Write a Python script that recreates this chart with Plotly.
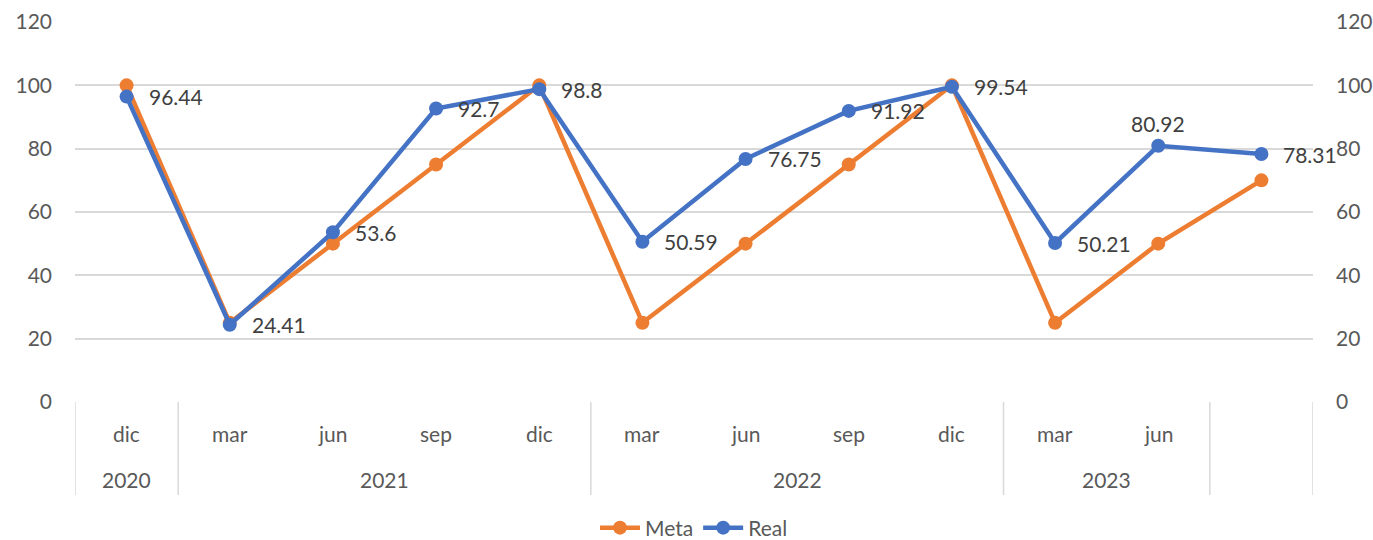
import plotly.graph_objects as go

months = ["dic", "mar", "jun", "sep", "dic", "mar", "jun", "sep", "dic", "mar", "jun", ""]
years = ["2020", "2021", "2021", "2021", "2021", "2022", "2022", "2022", "2022", "2023", "2023", ""]
meta = [100, 25, 50, 75, 100, 25, 50, 75, 100, 25, 50, 70]
real = [96.44, 24.41, 53.6, 92.7, 98.8, 50.59, 76.75, 91.92, 99.54, 50.21, 80.92, 78.31]
label_above = [False] * 10 + [True, False]

ORANGE = "#ED7D31"
BLUE = "#4472C4"
GRID = "#D9D9D9"
TXT = "#595959"
LBL = "#404040"
FONT = "Lato"
FS = 21

x = list(range(len(months)))

fig = go.Figure()
fig.add_trace(go.Scatter(
    x=x, y=meta, name="Meta", mode="lines+markers",
    line=dict(color=ORANGE, width=4.5), marker=dict(size=14, color=ORANGE),
    yaxis="y"))
fig.add_trace(go.Scatter(
    x=x, y=real, name="Real", mode="lines+markers",
    line=dict(color=BLUE, width=4.5), marker=dict(size=14, color=BLUE),
    yaxis="y2"))

annotations = []
# data labels for Real
for i, v in enumerate(real):
    if label_above[i]:
        annotations.append(dict(x=i, y=v, xref="x", yref="y2", text=f"{v:g}", showarrow=False,
                                xanchor="center", yanchor="middle", yshift=22,
                                font=dict(size=FS, color=LBL, family=FONT)))
    else:
        annotations.append(dict(x=i, y=v, xref="x", yref="y2", text=f"{v:g}", showarrow=False,
                                xanchor="left", yanchor="middle", xshift=20,
                                font=dict(size=FS, color=LBL, family=FONT)))

for i, m in enumerate(months):
    if m:
        annotations.append(dict(x=i, y=0, xref="x", yref="paper", text=m, showarrow=False,
                                yshift=-31, yanchor="middle",
                                font=dict(size=FS, color=TXT, family=FONT)))

# year groups
groups = []
start = 0
for i in range(1, len(years) + 1):
    if i == len(years) or years[i] != years[start]:
        groups.append((years[start], start, i - 1))
        start = i

shapes = []
bounds = set()
for name, s, e in groups:
    bounds.add(s - 0.5)
    bounds.add(e + 0.5)
    if name:
        annotations.append(dict(x=(s + e) / 2, y=0, xref="x", yref="paper", text=name,
                                showarrow=False, yshift=-77, yanchor="middle",
                                font=dict(size=FS, color=TXT, family=FONT)))
for b in sorted(bounds):
    shapes.append(dict(type="line", xref="x", yref="paper", x0=b, x1=b, y0=0, y1=-93 / 380,
                       line=dict(color=GRID, width=1.5)))

fig.update_layout(
    width=1373, height=540,
    margin=dict(l=75, r=60, t=22, b=138, autoexpand=False),
    plot_bgcolor="white", paper_bgcolor="white",
    font=dict(family=FONT, size=FS, color=TXT),
    showlegend=True,
    legend=dict(orientation="h", x=0.5, xanchor="center", y=-126 / 380, yanchor="middle",
                font=dict(size=FS, color=TXT, family=FONT), itemwidth=40,
                tracegroupgap=0),
    xaxis=dict(range=[-0.5, len(months) - 0.5], showticklabels=False, showgrid=False,
               zeroline=False, showline=False, ticks="", automargin=False),
    yaxis=dict(range=[0, 120], dtick=20, showgrid=True, gridcolor=GRID, gridwidth=1.5,
               zeroline=False, showline=False, ticks="", ticklabelstandoff=22,
               automargin=False, tickfont=dict(size=FS, color=TXT, family=FONT)),
    yaxis2=dict(range=[0, 120], dtick=20, overlaying="y", side="right", showgrid=False,
                zeroline=False, showline=False, ticks="", ticklabelstandoff=22,
                automargin=False, tickfont=dict(size=FS, color=TXT, family=FONT)),
    annotations=annotations,
    shapes=shapes,
)

fig.write_html(
    "out.html",
    config={"displayModeBar": False},
    post_script="document.body.style.margin='0';document.body.style.overflow='hidden';",
)
